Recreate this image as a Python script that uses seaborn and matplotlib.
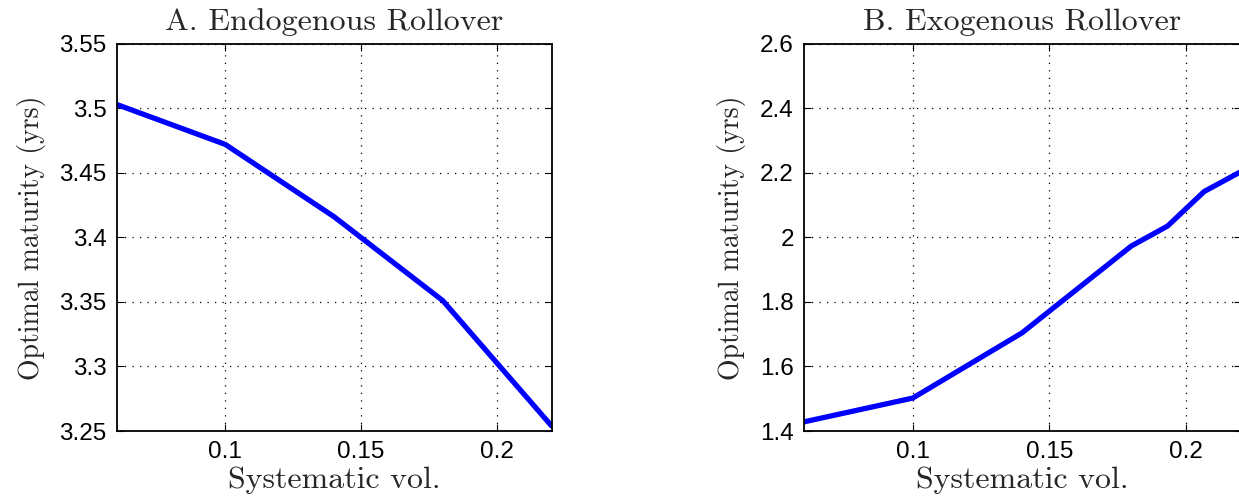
import matplotlib
matplotlib.use("Agg")
import matplotlib.pyplot as plt
import seaborn as sns
import pandas as pd

# Systematic volatility grid and optimal maturity for each rollover regime
vol_endo = [0.06, 0.10, 0.14, 0.18, 0.22]
maturity_endo = [3.503, 3.472, 3.416, 3.351, 3.254]

vol_exo = [0.06, 0.10, 0.14, 0.18, 0.1933, 0.2067, 0.22]
maturity_exo = [1.428, 1.502, 1.704, 1.973, 2.035, 2.142, 2.203]

titles = ["A. Endogenous Rollover", "B. Exogenous Rollover"]
xticks = [0.1, 0.15, 0.2]
xtick_labels = ["0.1", "0.15", "0.2"]
yticks_endo = [3.25, 3.3, 3.35, 3.4, 3.45, 3.5, 3.55]
ytick_labels_endo = ["3.25", "3.3", "3.35", "3.4", "3.45", "3.5", "3.55"]
yticks_exo = [1.4, 1.6, 1.8, 2.0, 2.2, 2.4, 2.6]
ytick_labels_exo = ["1.4", "1.6", "1.8", "2", "2.2", "2.4", "2.6"]

sns.set_theme(style="white")
plt.rcParams["font.family"] = ["Liberation Sans", "DejaVu Sans"]

W, H = 1239, 499
fig = plt.figure(figsize=(W / 100, H / 100), dpi=100)

serif = "cmr10"
title_size = 23
ylabel_size = 20
tick_size = 17.5

panels = [
    (116.5, 551.5, vol_endo, maturity_endo, (3.25, 3.55), yticks_endo, ytick_labels_endo),
    (803.5, 1240.5, vol_exo, maturity_exo, (1.4, 2.6), yticks_exo, ytick_labels_exo),
]

for (x0, x1, xs, ys, ylim, yt, ytl), title in zip(panels, titles):
    top, bottom = 43.7, 431.0
    ax = fig.add_axes([x0 / W, 1 - bottom / H, (x1 - x0) / W, (bottom - top) / H])
    df = pd.DataFrame({"vol": xs, "maturity": ys})
    sns.lineplot(data=df, x="vol", y="maturity", ax=ax, color="#0000ff",
                 linewidth=3.8, clip_on=True)
    ax.set_xlim(0.06, 0.22)
    ax.set_ylim(*ylim)
    ax.set_xticks(xticks)
    ax.set_xticklabels(xtick_labels)
    ax.set_yticks(yt)
    ax.set_yticklabels(ytl)
    ax.tick_params(direction="in", length=5, width=0.8, colors="black",
                   labelsize=tick_size, pad=7, top=True, right=True,
                   bottom=True, left=True)
    ax.grid(True, color="black", linestyle=(0, (1, 5)), linewidth=0.9)
    for sp in ax.spines.values():
        sp.set_color("black")
        sp.set_linewidth(1.3)
    ax.set_title(title, fontfamily=serif, fontsize=title_size, pad=10)
    ax.set_xlabel("Systematic vol.", fontfamily=serif, fontsize=title_size, labelpad=3)
    ax.set_ylabel("Optimal maturity (yrs)", fontfamily=serif, fontsize=ylabel_size, labelpad=10)

fig.savefig("out.png", dpi=100, facecolor="white")
